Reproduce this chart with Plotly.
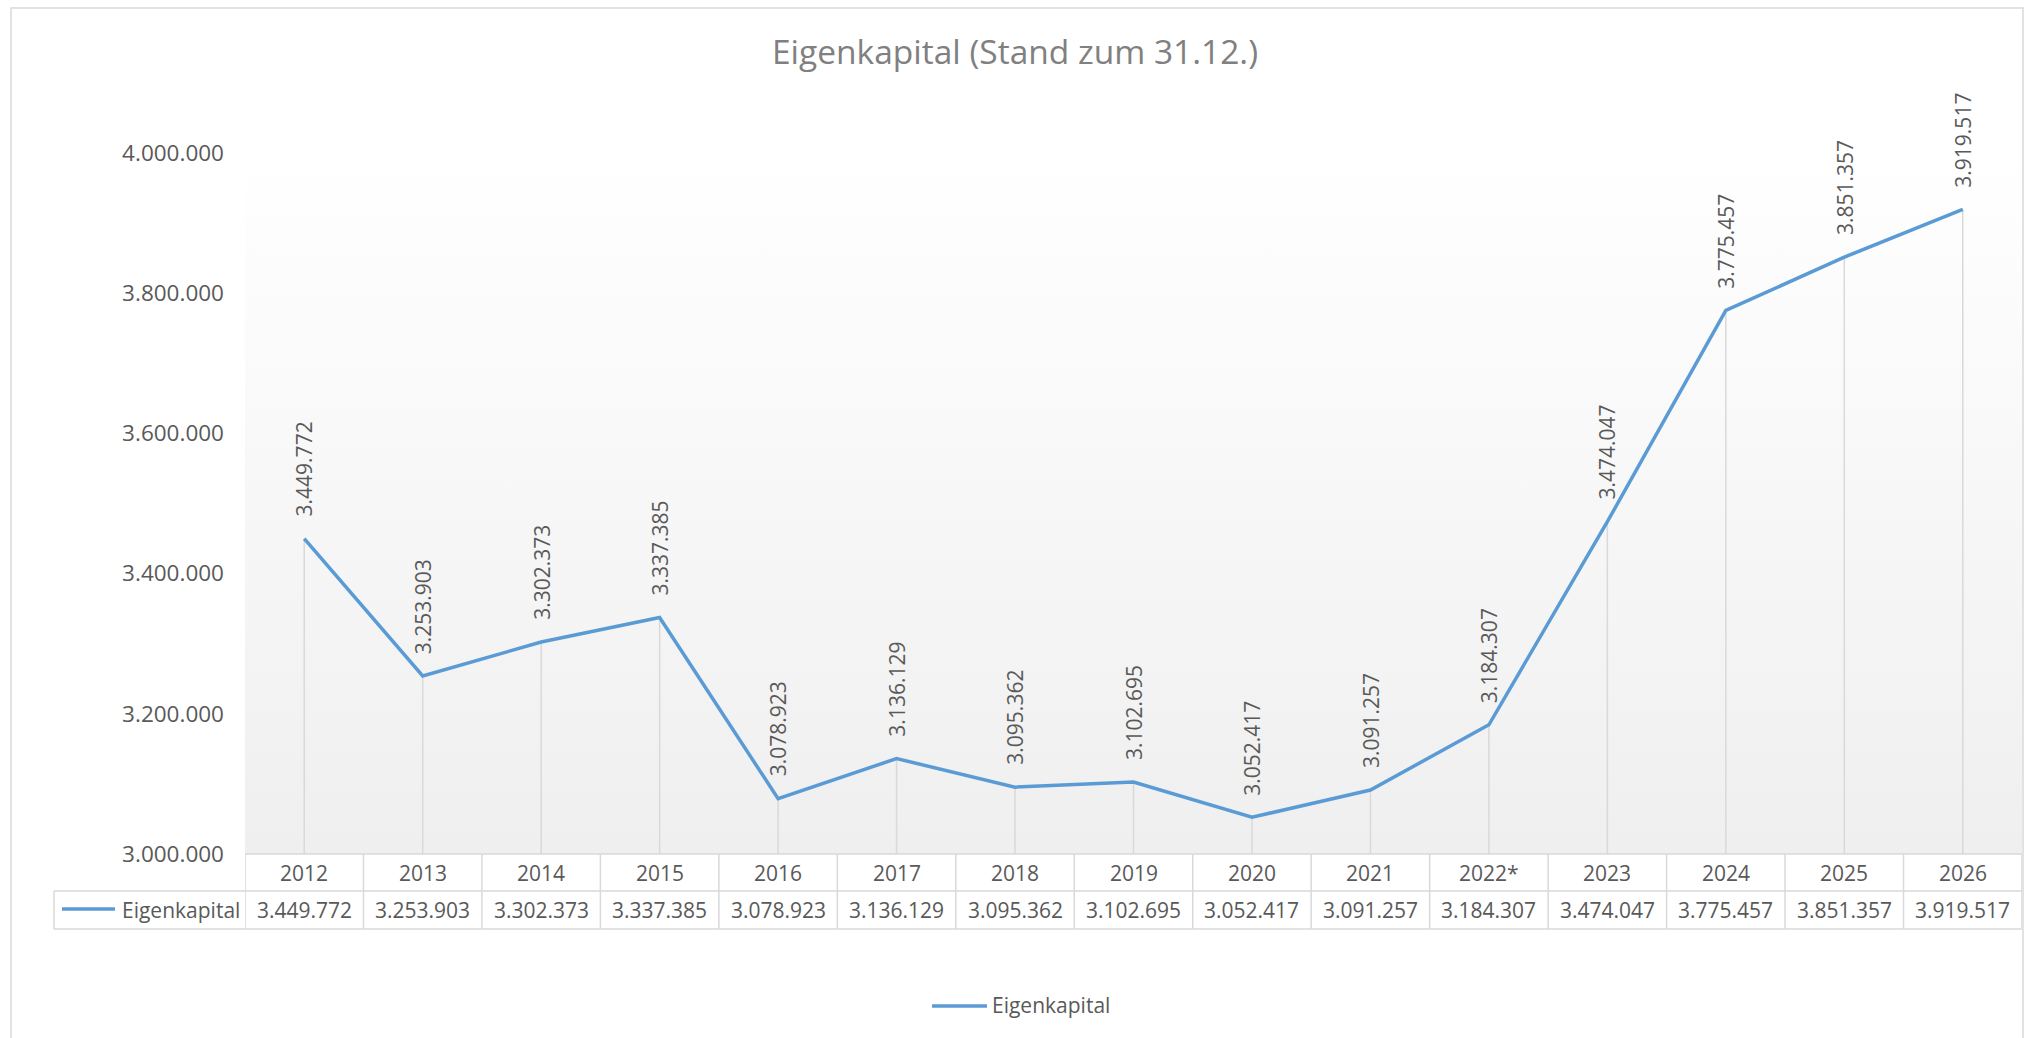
import base64
import plotly.graph_objects as go

# ---- data ----
years = ["2012", "2013", "2014", "2015", "2016", "2017", "2018", "2019",
         "2020", "2021", "2022*", "2023", "2024", "2025", "2026"]
eigenkapital = [3449772, 3253903, 3302373, 3337385, 3078923, 3136129, 3095362,
                3102695, 3052417, 3091257, 3184307, 3474047, 3775457, 3851357, 3919517]
series_name = "Eigenkapital"
title_text = "Eigenkapital (Stand zum 31.12.)"
y_ticks = [3000000, 3200000, 3400000, 3600000, 3800000, 4000000]
y_min, y_max = 3000000, 4000000

# ---- layout geometry (pixels) ----
W, H = 2031, 1038
PL, PR, PT, PB = 245, 2022, 153, 854
FONT = "Open Sans"
TXT = "#595959"
GRID = "#d9d9d9"
BLUE = "#5b9bd5"


def px_x(px):
    return (px - PL) / (PR - PL)


def px_y(py):
    return (PB - py) / (PB - PT)


def de(v):
    return f"{v:,}".replace(",", ".")


fig = go.Figure()

# drop lines
dx, dy = [], []
for c, v in zip(years, eigenkapital):
    dx += [c, c, None]
    dy += [y_min, v, None]
fig.add_trace(go.Scatter(x=dx, y=dy, mode="lines", line=dict(color=GRID, width=1.5),
                         hoverinfo="skip", showlegend=False))

# main line
fig.add_trace(go.Scatter(x=years, y=eigenkapital, mode="lines", name=series_name,
                         line=dict(color=BLUE, width=3.5), cliponaxis=False,
                         showlegend=False))

annotations = []
shapes = []

# data labels (rotated); category axis positions given by category index
for i, v in enumerate(eigenkapital):
    annotations.append(dict(x=i, y=v, xref="x", yref="y", text=de(v), showarrow=False,
                            textangle=-90, xanchor="center", yanchor="bottom", yshift=20,
                            font=dict(family=FONT, size=21, color=TXT)))

# data table: header row and value row
row1_top, row1_bot, row2_bot = PB, 891, 929
for i, (c, v) in enumerate(zip(years, eigenkapital)):
    annotations.append(dict(x=i, y=px_y((row1_top + row1_bot) / 2), xref="x", yref="paper",
                            text=c, showarrow=False, xanchor="center", yanchor="middle",
                            font=dict(family=FONT, size=21, color=TXT)))
    annotations.append(dict(x=i, y=px_y((row1_bot + row2_bot) / 2), xref="x", yref="paper",
                            text=de(v), showarrow=False, xanchor="center", yanchor="middle",
                            font=dict(family=FONT, size=21, color=TXT)))

# table legend key
annotations.append(dict(x=px_x(120), y=px_y((row1_bot + row2_bot) / 2), xref="paper", yref="paper",
                        text=series_name, showarrow=False, xanchor="left", yanchor="middle",
                        font=dict(family=FONT, size=21, color=TXT)))
shapes.append(dict(type="line", xref="paper", yref="paper", x0=px_x(62), x1=px_x(115),
                   y0=px_y(909), y1=px_y(909), line=dict(color=BLUE, width=3.5)))

# bottom legend (Excel-style long line sample + label)
annotations.append(dict(x=px_x(990), y=px_y(1005), xref="paper", yref="paper",
                        text=series_name, showarrow=False, xanchor="left", yanchor="middle",
                        font=dict(family=FONT, size=21, color=TXT)))
shapes.append(dict(type="line", xref="paper", yref="paper", x0=px_x(932), x1=px_x(987),
                   y0=px_y(1006), y1=px_y(1006), line=dict(color=BLUE, width=3.5)))

# table borders
n = len(years)
bline = dict(color=GRID, width=1.5)
shapes.append(dict(type="line", xref="paper", yref="paper", x0=0, x1=1,
                   y0=px_y(row1_top), y1=px_y(row1_top), line=bline))
for yy in (row1_bot, row2_bot):
    shapes.append(dict(type="line", xref="paper", yref="paper", x0=px_x(54), x1=1,
                       y0=px_y(yy), y1=px_y(yy), line=bline))
shapes.append(dict(type="line", xref="paper", yref="paper", x0=px_x(54), x1=px_x(54),
                   y0=px_y(row1_bot), y1=px_y(row2_bot), line=bline))
for i in range(n + 1):
    shapes.append(dict(type="line", xref="x", yref="paper", x0=i - 0.5, x1=i - 0.5,
                       y0=px_y(row1_top), y1=px_y(row2_bot), line=bline))

# outer chart frame
shapes.append(dict(type="rect", xref="paper", yref="paper", x0=px_x(11), x1=px_x(2023),
                   y0=px_y(1060), y1=px_y(8), line=dict(color=GRID, width=1.5),
                   fillcolor="rgba(0,0,0,0)", layer="below"))

# gradient background of plot area
svg = ('<svg xmlns="http://www.w3.org/2000/svg" width="100" height="100" preserveAspectRatio="none">'
       '<defs><linearGradient id="g" x1="0" y1="0" x2="0" y2="1">'
       '<stop offset="0" stop-color="#ffffff"/><stop offset="1" stop-color="#efefef"/>'
       '</linearGradient></defs><rect width="100" height="100" fill="url(#g)"/></svg>')
src = "data:image/svg+xml;base64," + base64.b64encode(svg.encode()).decode()

fig.update_layout(
    width=W, height=H,
    margin=dict(l=PL, r=W - PR, t=PT, b=H - PB, pad=0),
    paper_bgcolor="white", plot_bgcolor="rgba(0,0,0,0)",
    separators=",.",
    font=dict(family=FONT, color=TXT),
    title=dict(text=title_text, x=1015 / W, xanchor="center", xref="container",
               y=1 - 52 / H, yanchor="middle", yref="container",
               font=dict(family=FONT, size=33.5, color="#808080")),
    images=[dict(source=src, xref="paper", yref="paper", x=0, y=1, sizex=1, sizey=1,
                 sizing="stretch", layer="below", xanchor="left", yanchor="top")],
    xaxis=dict(type="category", categoryorder="array", categoryarray=years,
               range=[-0.5, n - 0.5], showticklabels=False, showgrid=False,
               zeroline=False, showline=False, ticks=""),
    yaxis=dict(range=[y_min, y_max], tickvals=y_ticks, tickformat=",d",
               showgrid=False, zeroline=False, showline=False, ticks="",
               ticklabelstandoff=20, tickfont=dict(family=FONT, size=22.5, color=TXT)),
    showlegend=False,
    annotations=annotations, shapes=shapes,
)

fig.write_html("out.html", config={"displayModeBar": False},
               post_script="document.body.style.margin='0';document.body.style.overflow='hidden';")
